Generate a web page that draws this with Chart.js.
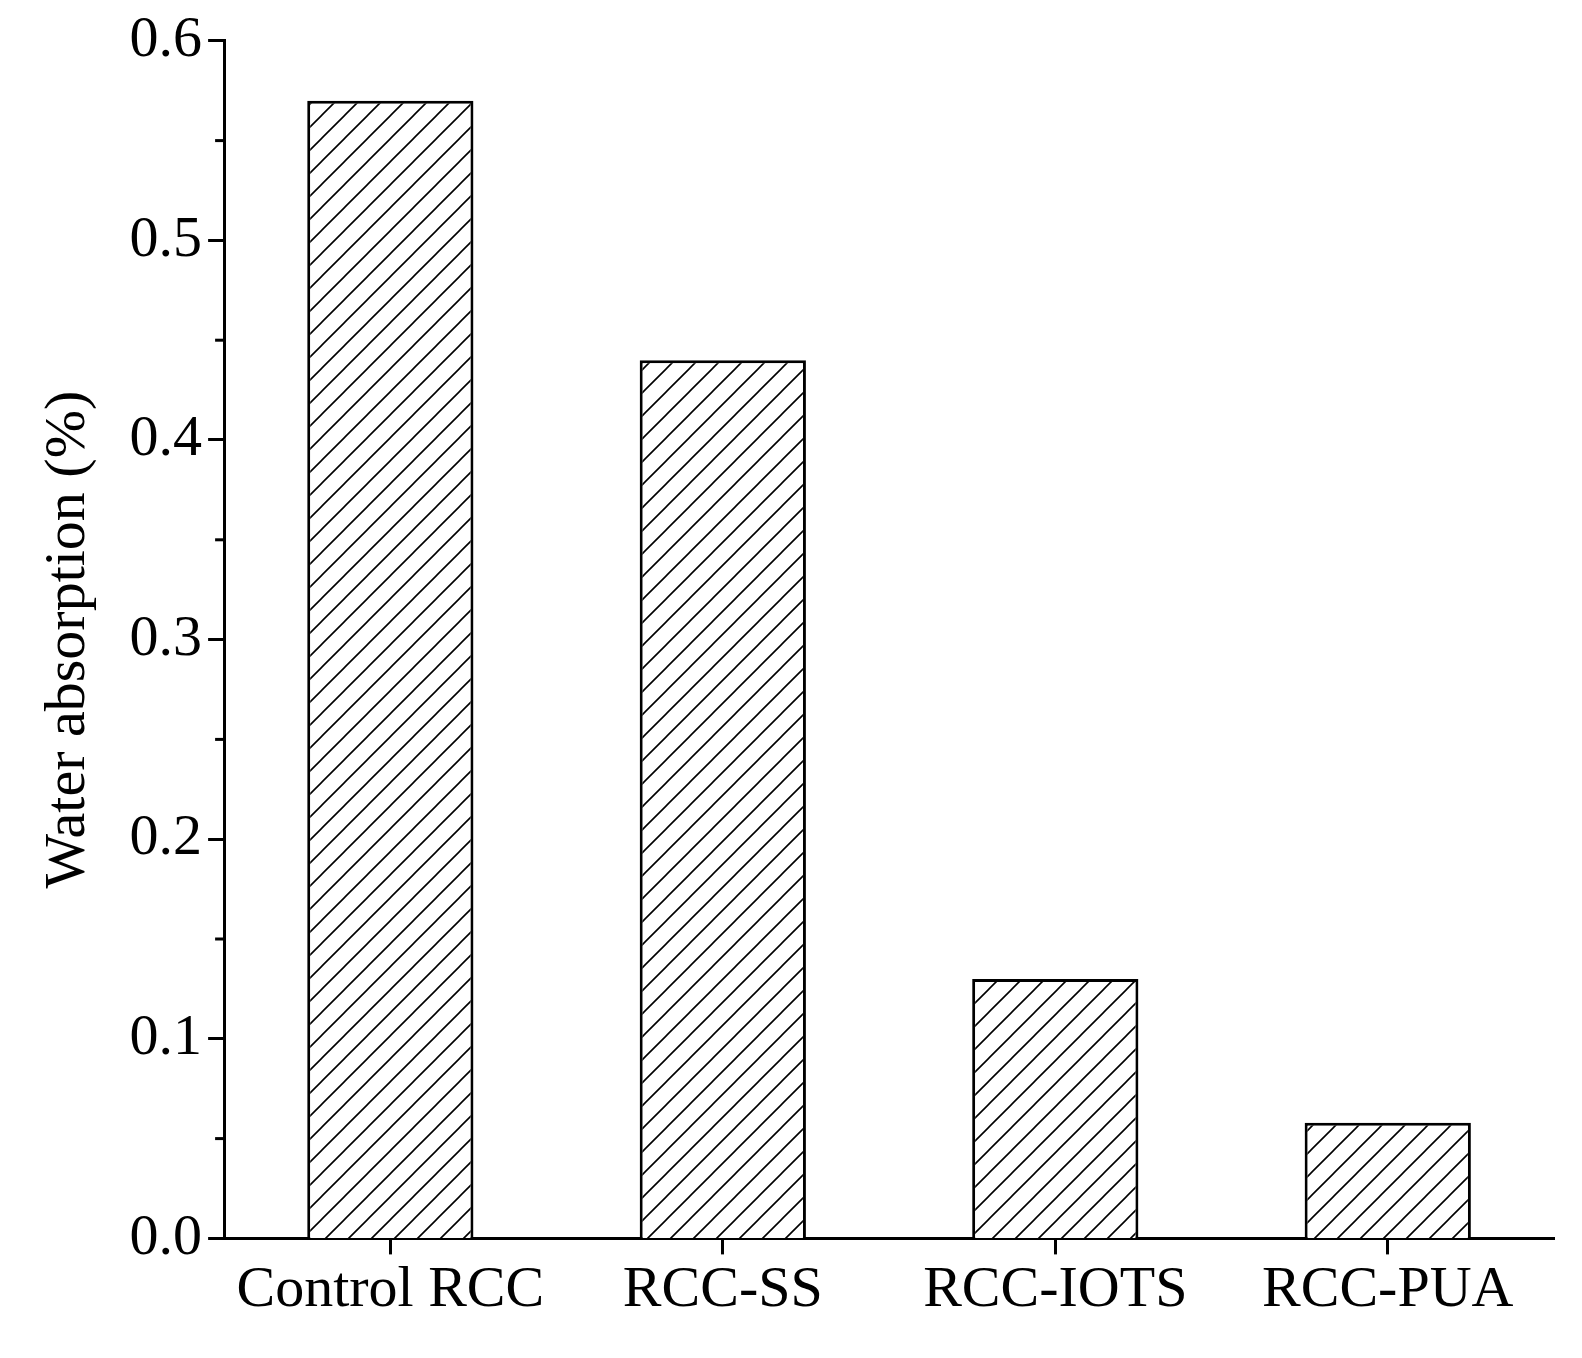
<!DOCTYPE html>
<html><head><meta charset="utf-8">
<script src="https://cdn.jsdelivr.net/npm/chart.js@4"></script>
<style>html,body{margin:0;background:#fff}#w{width:1582px;height:1358px}</style>
</head><body><div id="w"><canvas id="c"></canvas></div>
<script>
const categories = ["Control RCC", "RCC-SS", "RCC-IOTS", "RCC-PUA"];
const waterAbsorption = [0.57, 0.44, 0.13, 0.058];
const yTicks = [0, 0.1, 0.2, 0.3, 0.4, 0.5, 0.6];
const yMinorTicks = [0.05, 0.15, 0.25, 0.35, 0.45, 0.55];

function hatch() {
  const s = 23, p = document.createElement('canvas');
  p.width = s; p.height = s;
  const g = p.getContext('2d');
  g.fillStyle = '#fff'; g.fillRect(0, 0, s, s);
  g.strokeStyle = '#000'; g.lineWidth = 1.6;
  g.beginPath();
  g.moveTo(-2, s + 2); g.lineTo(s + 2, -2);
  g.moveTo(-2, 2); g.lineTo(2, -2);
  g.moveTo(s - 2, s + 2); g.lineTo(s + 2, s - 2);
  g.stroke();
  return g.createPattern(p, 'repeat');
}
const minorTicks = {
  id: 'minor',
  afterDraw(ch) {
    const y = ch.scales.y, ctx = ch.ctx;
    ctx.save(); ctx.strokeStyle = '#000'; ctx.lineWidth = 3;
    yMinorTicks.forEach(v => {
      const py = y.getPixelForValue(v);
      ctx.beginPath(); ctx.moveTo(y.right - 9, py); ctx.lineTo(y.right, py); ctx.stroke();
    });
    ctx.restore();
  }
};
const font = {family: '"Liberation Serif", "Times New Roman", serif', size: 58};
new Chart(document.getElementById('c'), {
  type: 'bar',
  data: {labels: categories, datasets: [{data: waterAbsorption, backgroundColor: hatch(),
    borderColor: '#000', borderWidth: 3, barPercentage: 0.5, categoryPercentage: 1}]},
  options: {
    responsive: true, maintainAspectRatio: false, animation: false,
    layout: {padding: {top: 30, right: 28, left: 14, bottom: 30}},
    plugins: {legend: {display: false}, tooltip: {enabled: false}},
    scales: {
      x: {grid: {offset: false, drawOnChartArea: false, tickLength: 16, tickWidth: 3, color: '#000'},
        border: {color: '#000', width: 3},
        ticks: {font, color: '#000', padding: 2}},
      y: {min: 0, max: 0.6, afterBuildTicks: s => { s.ticks = yTicks.map(v => ({value: v})); },
        grid: {drawOnChartArea: false, tickLength: 16, tickWidth: 3, color: '#000'},
        border: {color: '#000', width: 3},
        ticks: {font, color: '#000', padding: 6, callback: v => v.toFixed(1)},
        title: {display: true, text: 'Water absorption (%)', font, color: '#000', padding: 20}}
    }
  },
  plugins: [minorTicks]
});
</script></body></html>
